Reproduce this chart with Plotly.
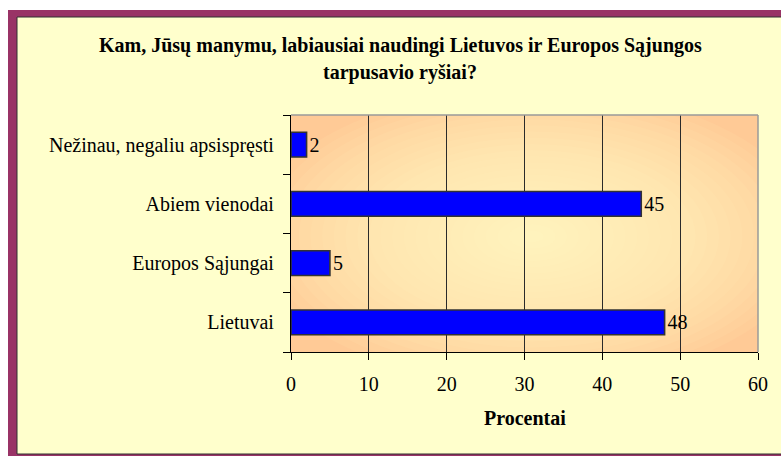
import plotly.graph_objects as go

categories = ["Lietuvai", "Europos Sąjungai", "Abiem vienodai", "Nežinau, negaliu apsispręsti"]
values = [48, 5, 45, 2]
x_ticks = [0, 10, 20, 30, 40, 50, 60]
title_lines = ["Kam, Jūsų manymu, labiausiai naudingi Lietuvos ir Europos Sąjungos",
               "tarpusavio ryšiai?"]
x_title = "Procentai"

W, H = 781, 456
L, R, T, B = 291, 23, 115, 104
PW, PH = W - L - R, H - T - B

def px(x):
    return (x - L) / PW

def py(y):
    return (H - B - y) / PH

FONT = "Liberation Serif, Times New Roman, serif"

fig = go.Figure()
fig.add_trace(go.Bar(
    y=categories, x=values, orientation="h",
    marker=dict(color="#0000FF", line=dict(color="#333333", width=1.6)),
    text=values, textposition="outside", cliponaxis=False,
    textfont=dict(family=FONT, size=20, color="black"),
    width=0.42,
))

shapes = []
# outer frame
shapes.append(dict(type="rect", xref="paper", yref="paper", layer="below",
                   x0=px(8), x1=px(800), y0=py(10), y1=py(470),
                   fillcolor="#993366", line=dict(width=0)))
shapes.append(dict(type="rect", xref="paper", yref="paper", layer="below",
                   x0=px(17), x1=px(795), y0=py(17), y1=py(454),
                   fillcolor="#FFFFCC", line=dict(color="#303030", width=1)))
# plot area background (radial-ish gradient)
shapes.append(dict(type="rect", xref="x", yref="y", layer="below",
                   x0=0, x1=60, y0=-0.5, y1=3.5,
                   fillcolor="#FFCA96", line=dict(width=0)))
n = 24
for i in range(n):
    f = 1 - i / n
    shapes.append(dict(type="circle", xref="x", yref="y", layer="below",
                       x0=31 - 36 * f, x1=31 + 36 * f,
                       y0=1.45 - 2.5 * f, y1=1.45 + 2.5 * f,
                       fillcolor="#FFFDCC", opacity=0.075, line=dict(width=0)))
# top and right border (grey)
shapes.append(dict(type="line", xref="paper", yref="paper", layer="above",
                   x0=0, x1=1, y0=1, y1=1, line=dict(color="#9a9a9a", width=1.5)))
shapes.append(dict(type="line", xref="paper", yref="paper", layer="above",
                   x0=1, x1=1, y0=0, y1=1, line=dict(color="#9a9a9a", width=1.5)))

bold = dict(family=FONT, size=20, color="black", weight="bold")
annotations = [
    dict(text=title_lines[0], xref="paper", yref="paper",
         x=px(400), y=py(45), showarrow=False, xanchor="center", yanchor="middle",
         font=bold),
    dict(text=title_lines[1], xref="paper", yref="paper",
         x=px(400), y=py(72), showarrow=False, xanchor="center", yanchor="middle",
         font=bold),
    dict(text=x_title, xref="paper", yref="paper",
         x=px(525), y=py(418), showarrow=False, xanchor="center", yanchor="middle",
         font=bold),
]

fig.update_layout(
    width=W, height=H,
    margin=dict(l=L, r=R, t=T, b=B, pad=0),
    paper_bgcolor="white", plot_bgcolor="#FFCA96",
    showlegend=False,
    shapes=shapes, annotations=annotations,
    font=dict(family=FONT, size=20, color="black"),
    bargap=0.58,
)
fig.update_xaxes(range=[0, 60], tickvals=x_ticks, ticktext=[str(v) for v in x_ticks],
                 showgrid=True, gridcolor="#2a2a2a", gridwidth=1,
                 showline=True, linecolor="black", linewidth=1.2,
                 ticks="outside", ticklen=7, tickcolor="black",
                 tickfont=dict(family=FONT, size=20, color="black"),
                 ticklabelstandoff=7, zeroline=False, fixedrange=True)
fig.update_yaxes(type="category", range=[-0.5, 3.5],
                 showgrid=False, showline=True, linecolor="black", linewidth=1.2,
                 ticks="outside", ticklen=7, tickcolor="black", tickson="boundaries",
                 tickfont=dict(family=FONT, size=20, color="black"),
                 ticklabelstandoff=12, fixedrange=True)

fig.write_html("out.html", config={"displayModeBar": False},
               post_script="document.body.style.margin='0';document.body.style.overflow='hidden';")
